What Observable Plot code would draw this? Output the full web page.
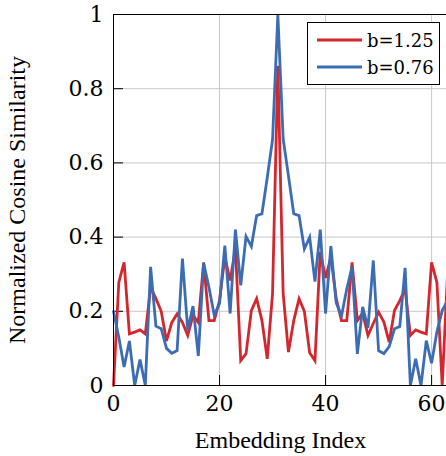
<!DOCTYPE html>
<html><head><meta charset="utf-8">
<script src="https://cdn.jsdelivr.net/npm/d3@7"></script>
<script src="https://cdn.jsdelivr.net/npm/@observablehq/plot@0.6"></script>
<style>body{margin:0;background:#fff}</style>
</head><body><div id="chart"></div>
<script>
const indices = d3.range(64);
const redValues = [0, 0.278, 0.332, 0.139, 0.144, 0.15, 0.139, 0.265, 0.234, 0.2,
  0.12, 0.17, 0.193, 0.17, 0.135, 0.189, 0.17, 0.332, 0.175, 0.175,
  0.229, 0.346, 0.283, 0.37, 0.067, 0.086, 0.202, 0.234, 0.175, 0.072,
  0.248, 0.862, 0.248, 0.09, 0.175, 0.234, 0.2, 0.088, 0.067, 0.36,
  0.29, 0.346, 0.235, 0.175, 0.175, 0.332, 0.175, 0.195, 0.135, 0.167,
  0.198, 0.171, 0.117, 0.202, 0.229, 0.26, 0.135, 0.15, 0.144, 0.139,
  0.332, 0.278, 0, 0.3];
const blueValues = [0.2, 0.13, 0.05, 0.12, 0.0, 0.07, 0.0, 0.32, 0.16, 0.153,
  0.1, 0.087, 0.094, 0.342, 0.15, 0.214, 0.08, 0.33, 0.265, 0.19,
  0.221, 0.377, 0.194, 0.42, 0.27, 0.402, 0.375, 0.458, 0.463, 0.56,
  0.663, 1.0, 0.665, 0.565, 0.463, 0.458, 0.368, 0.4, 0.28, 0.42,
  0.194, 0.376, 0.223, 0.187, 0.26, 0.32, 0.085, 0.212, 0.155, 0.337,
  0.094, 0.086, 0.105, 0.153, 0.159, 0.317, 0.0, 0.072, 0.0, 0.121,
  0.06, 0.145, 0.202, 0.229];
const seriesNames = ["b=1.25", "b=0.76"];
const seriesColors = ["#d3262d", "#3b6cb4"];
const xTicks = [0, 20, 40, 60];
const yTicks = [0, 0.2, 0.4, 0.6, 0.8, 1];
const xLabel = "Embedding Index";
const yLabel = "Normalized Cosine Similarity";

const data = [];
indices.forEach((i) => data.push({i, v: redValues[i], s: seriesNames[0]}));
indices.forEach((i) => data.push({i, v: blueValues[i], s: seriesNames[1]}));

const font = "'Liberation Serif', 'Times New Roman', serif";
const numFont = "'DejaVu Serif', serif";
const chart = Plot.plot({
  width: 446, height: 456,
  marginLeft: 113, marginRight: -1, marginTop: 14, marginBottom: 71,
  x: {domain: [0, 63]},
  y: {domain: [0, 1]},
  color: {domain: seriesNames, range: seriesColors},
  style: {fontFamily: font, fontSize: "25px", background: "white", color: "black"},
  marks: [
    Plot.gridX(xTicks, {stroke: "#c8c8c8", strokeOpacity: 1, strokeWidth: 1}),
    Plot.gridY(yTicks, {stroke: "#c8c8c8", strokeOpacity: 1, strokeWidth: 1}),
    Plot.ruleX(xTicks, {x: d => d, insetTop: 361, stroke: "black", strokeWidth: 1}),
    Plot.ruleY(yTicks, {y: d => d, insetRight: 324, stroke: "black", strokeWidth: 1}),
    Plot.lineY(data, {x: "i", y: "v", stroke: "s", z: "s", strokeWidth: 2.8, strokeLinejoin: "miter", strokeMiterlimit: 4}),
    Plot.frame({stroke: "black", strokeWidth: 1}),
    Plot.axisX(xTicks, {tickSize: 0, tickPadding: 10, fontSize: 22, fontFamily: numFont, fontWeight: 300, label: null, tickFormat: d => String(d)}),
    Plot.axisY(yTicks, {tickSize: 0, tickPadding: 10, fontSize: 22, fontFamily: numFont, fontWeight: 300, label: null, tickFormat: d => String(d)}),
    Plot.text([xLabel], {frameAnchor: "bottom", dy: 62, lineAnchor: "bottom", textAnchor: "middle", fontSize: 24, fontFamily: font, fill: "black"})
  ]
});

const svg = d3.select(chart);
svg.append("text")
  .attr("transform", "translate(25,200) rotate(-90)")
  .style("text-anchor", "middle").style("font-family", font).style("font-size", "24px")
  .attr("fill", "black")
  .text(yLabel);

const lg = svg.append("g");
lg.append("rect").attr("x", 307.5).attr("y", 22.5).attr("width", 132).attr("height", 62)
  .attr("fill", "white").attr("stroke", "black").attr("stroke-width", 1);
seriesNames.forEach((name, k) => {
  const yy = 40 + k * 27;
  lg.append("line").attr("x1", 317).attr("x2", 362).attr("y1", yy).attr("y2", yy)
    .attr("stroke", seriesColors[k]).attr("stroke-width", 3);
  lg.append("text").attr("x", 367).attr("y", yy + 6.5)
    .style("text-anchor", "start").style("font-family", numFont).style("font-size", "18px")
    .attr("fill", "black").text(name);
});

document.getElementById("chart").appendChild(chart);
</script>
</body></html>
